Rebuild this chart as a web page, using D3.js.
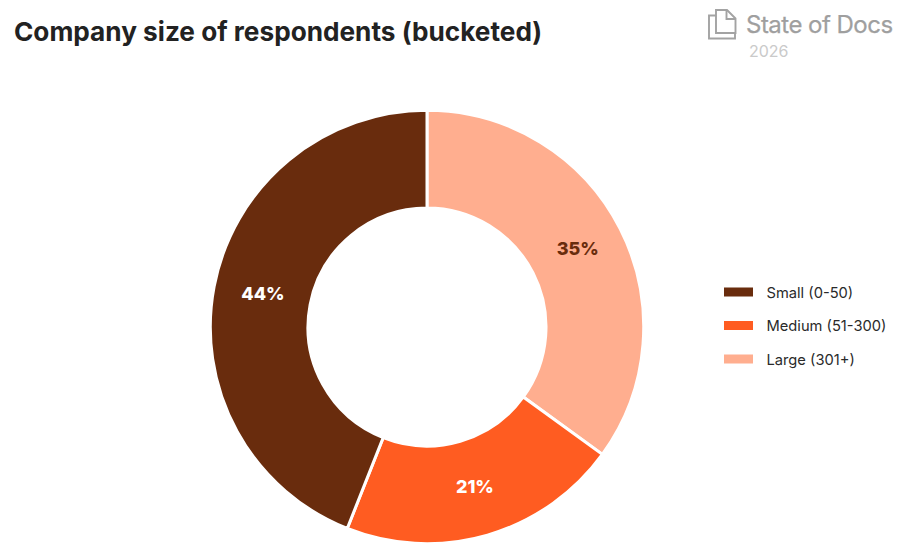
<!DOCTYPE html>
<html>
<head>
<meta charset="utf-8">
<script src="https://cdn.jsdelivr.net/npm/d3@7/dist/d3.min.js"></script>
<style>
  html, body { margin: 0; padding: 0; background: #ffffff; }
  svg { display: block; }
  text { font-family: Inter, "Noto Sans", sans-serif; }
</style>
</head>
<body>
<svg id="chart" width="904" height="556"></svg>
<script>
const categories = ["Small (0-50)", "Medium (51-300)", "Large (301+)"];
const shares = [44, 21, 35];
const colors = ["#692c0d", "#ff5c21", "#ffae8f"];
const sliceOrder = [2, 1, 0];   // clockwise from twelve o'clock

const chartTitle = "Company size of respondents (bucketed)";
const brandName = "State of Docs";
const brandYear = "2026";

const svg = d3.select("#chart");
const cx = 427, cy = 327, outerR = 216.7, innerR = 119;

svg.append("text")
  .attr("x", 14).attr("y", 41)
  .attr("font-size", 26.2).attr("font-weight", 700)
  .attr("fill", "#222222")
  .text(chartTitle);

// Brand mark: two overlapping page outlines
const brand = svg.append("g").attr("fill", "none").attr("stroke", "#a3a3a3").attr("stroke-width", 1.9);
brand.append("path").attr("d", "M716 15.5H709V38.5H735V33");
brand.append("path").attr("d", "M716 10H727L735.5 18.5V33H716Z");
brand.append("path").attr("d", "M726.5 10V19H735.5");

svg.append("text")
  .attr("x", 746).attr("y", 33)
  .attr("font-size", 24).attr("fill", "#9f9f9f").attr("letter-spacing", -0.52)
  .attr("stroke", "#9f9f9f").attr("stroke-width", 0.25)
  .text(brandName);
svg.append("text")
  .attr("x", 749).attr("y", 56.5)
  .attr("font-size", 16).attr("fill", "#cacaca")
  .text(brandYear);

const pie = d3.pie().sort(null).value(i => shares[i]);
const arc = d3.arc().innerRadius(innerR).outerRadius(outerR);
const labelArc = d3.arc().innerRadius(168).outerRadius(168);

const ring = svg.append("g").attr("transform", `translate(${cx},${cy})`);
const slices = pie(sliceOrder);

ring.selectAll("path.slice")
  .data(slices)
  .join("path")
  .attr("class", "slice")
  .attr("d", arc)
  .attr("fill", d => colors[d.data])
  .attr("stroke", "#ffffff")
  .attr("stroke-width", 3);

ring.selectAll("text.value")
  .data(slices)
  .join("text")
  .attr("class", "value")
  .attr("transform", d => `translate(${labelArc.centroid(d)})`)
  .attr("x", 1)
  .attr("y", -2)
  .attr("text-anchor", "middle")
  .attr("dominant-baseline", "central")
  .attr("font-size", 18).attr("font-weight", 800)
  .attr("fill", d => d.data === 2 ? colors[0] : "#ffffff")
  .text(d => shares[d.data] + "%");

const legendY = d3.scalePoint().domain(categories).range([292, 359]);
const legend = svg.append("g").selectAll("g")
  .data(categories)
  .join("g")
  .attr("transform", d => `translate(724,${legendY(d)})`);

legend.append("rect")
  .attr("x", 0).attr("y", -4.5)
  .attr("width", 29).attr("height", 9)
  .attr("fill", (d, i) => colors[i]);

legend.append("text")
  .attr("x", 42.5).attr("y", 0.7)
  .attr("dominant-baseline", "central")
  .attr("font-size", 14.7).attr("fill", "#2a2a2a")
  .text(d => d);
</script>
</body>
</html>
